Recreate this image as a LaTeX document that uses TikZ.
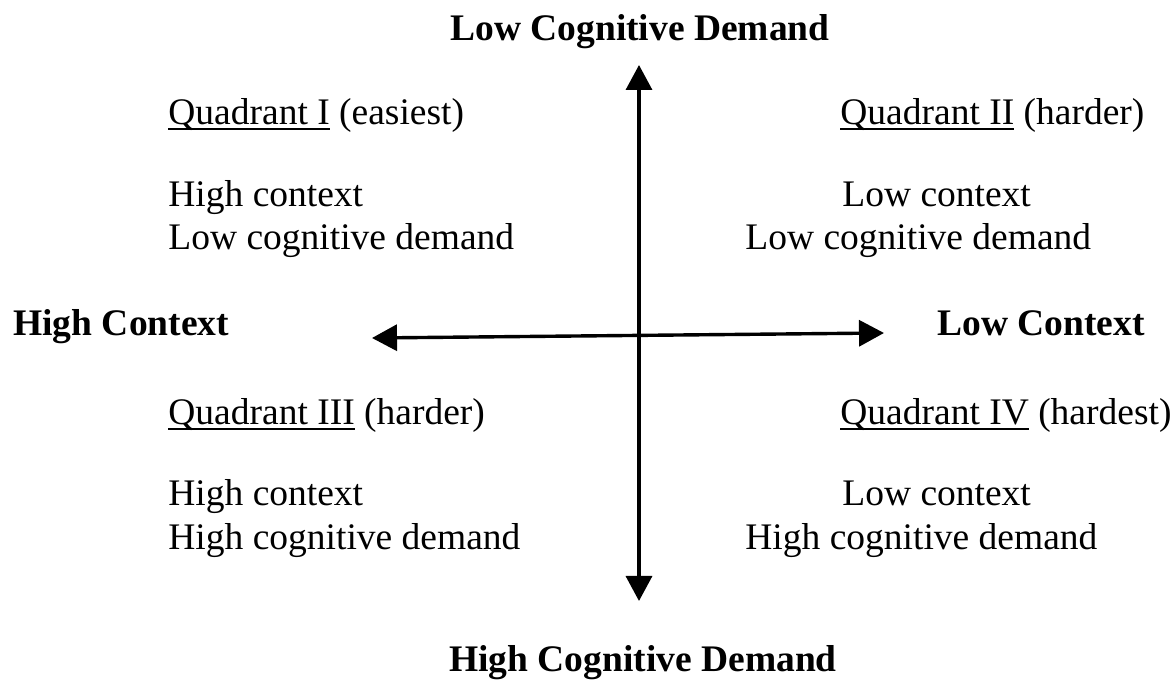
\documentclass[tikz,border=0pt]{standalone}
\usepackage{fontspec}
\setmainfont{Liberation Serif}
\usetikzlibrary{arrows.meta}

% underline as in the word processor: close to the baseline, a bit heavy
\newcommand{\qline}[1]{\setbox0\hbox{#1}\rlap{\rule[-2.4pt]{\wd0}{1.1pt}}\box0\relax}

\begin{document}
\begin{tikzpicture}[x=0.5pt, y=-0.5pt,
    axis/.style={line width=1.7pt,
      {Triangle[length=12.5pt,width=13pt]}-{Triangle[length=12.5pt,width=13pt]}},
    lbl/.style={anchor=base west, inner sep=0pt,
      font=\fontsize{18.75}{21.5}\selectfont},
    heading/.style={lbl, font=\fontsize{18.75}{21.5}\selectfont\bfseries}]
    \useasboundingbox (0,0) rectangle (1175,683);
    % Cognitive demand axis
    \node [heading, anchor=base] (lowdemand) at (640,41) {Low Cognitive Demand};
    \node [heading, anchor=base] (highdemand) at (643,672) {High Cognitive Demand};
    \coordinate (top) at (639,65);
    \coordinate (bottom) at (639,601);
    \draw [axis] (bottom) -- (top);
    % Context axis
    \node [heading] (highctx) at (13,336) {High Context};
    \node [heading] (lowctx) at (937,336) {Low Context};
    \coordinate (left) at (372,338);
    \coordinate (right) at (884,333);
    \draw [axis] (left) -- (right);
    % Quadrant I
    \node [lbl] (q1) at (168,125) {\qline{Quadrant I} (easiest)};
    \node [lbl] (q1a) at (168,207) {High context};
    \node [lbl] (q1b) at (168,250) {Low cognitive demand};
    % Quadrant II
    \node [lbl] (q2) at (840,125) {\qline{Quadrant II} (harder)};
    \node [lbl] (q2a) at (842,207) {Low context};
    \node [lbl] (q2b) at (745,250) {Low cognitive demand};
    % Quadrant III
    \node [lbl] (q3) at (168,425) {\qline{Quadrant III} (harder)};
    \node [lbl] (q3a) at (168,506) {High context};
    \node [lbl] (q3b) at (168,550) {High cognitive demand};
    % Quadrant IV
    \node [lbl] (q4) at (840,425) {\qline{Quadrant IV} (hardest)};
    \node [lbl] (q4a) at (842,506) {Low context};
    \node [lbl] (q4b) at (745,550) {High cognitive demand};
\end{tikzpicture}
\end{document}
